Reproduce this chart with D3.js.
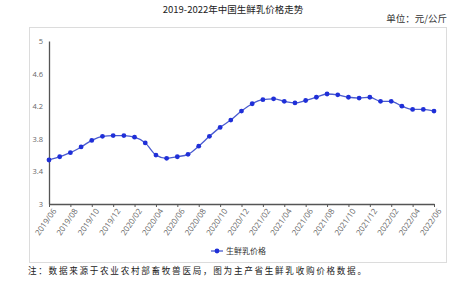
<!DOCTYPE html>
<meta charset="utf-8" />
<html>
<head>
<title>生鲜乳价格</title>
<script src="https://cdn.jsdelivr.net/npm/d3@7"></script>
<style>
body { margin: 0; background: #fff; }
text { font-family: "Noto Sans CJK SC", "Noto Sans", sans-serif; }
</style>
</head>
<body>
<div id="viz"></div>
<script>

// monthly labels, 2019/06 .. 2022/06
var months = ["2019/06","2019/07","2019/08","2019/09","2019/10","2019/11","2019/12",
  "2020/01","2020/02","2020/03","2020/04","2020/05","2020/06","2020/07","2020/08","2020/09","2020/10","2020/11","2020/12",
  "2021/01","2021/02","2021/03","2021/04","2021/05","2021/06","2021/07","2021/08","2021/09","2021/10","2021/11","2021/12",
  "2022/01","2022/02","2022/03","2022/04","2022/05","2022/06"];
var prices = [3.54,3.58,3.63,3.70,3.78,3.83,3.84,
  3.84,3.82,3.75,3.60,3.56,3.58,3.61,3.71,3.83,3.94,4.03,4.14,
  4.23,4.28,4.29,4.26,4.24,4.27,4.31,4.35,4.34,4.31,4.30,4.31,
  4.26,4.26,4.20,4.16,4.16,4.14];
var yTicks = [3, 3.4, 3.8, 4.2, 4.6, 5];
var seriesName = "生鲜乳价格";

var width = 474, height = 283;
var svg = d3.select("#viz").append("svg")
    .attr("width", width)
    .attr("height", height);

// outer frame
svg.append("rect")
  .attr("x", 29.5).attr("y", 27.5)
  .attr("width", 417).attr("height", 235)
  .style("fill", "none")
  .style("stroke", "#dcdcdc");

svg.append("text")
  .attr("x", 233).attr("y", 13)
  .attr("text-anchor", "middle")
  .style("font-size", "9.5px")
  .style("fill", "#222")
  .text("2019-2022年中国生鲜乳价格走势");

svg.append("text")
  .attr("x", 447).attr("y", 22)
  .attr("text-anchor", "end")
  .style("font-size", "9.5px")
  .style("fill", "#333")
  .text("单位：元/公斤");

var x = d3.scalePoint().domain(months).range([49, 434]);
var y = d3.scaleLinear().domain([3, 5]).range([204, 41]);

// y axis
var yAxis = svg.append("g")
  .attr("transform", "translate(49,0)")
  .call(d3.axisLeft(y).tickValues(yTicks).tickSize(0).tickPadding(6).tickFormat(d3.format("")));
yAxis.select(".domain").style("stroke", "#555").style("stroke-width", 1.3);
yAxis.selectAll("text").style("font-size", "7.5px").style("fill", "#666")
  .style("font-family", "'Open Sans', sans-serif");

// x axis, every other month labelled
var xAxis = svg.append("g")
  .attr("transform", "translate(0,204)")
  .call(d3.axisBottom(x)
    .tickValues(months.filter(function(d, i) { return i % 2 == 0; }))
    .tickSize(3).tickSizeOuter(0));
xAxis.select(".domain").style("stroke", "#555").style("stroke-width", 1.3);
xAxis.selectAll(".tick line").style("stroke", "#555");
xAxis.selectAll("text")
  .style("font-size", "8px").style("fill", "#666")
  .style("font-family", "'Open Sans', sans-serif")
  .attr("text-anchor", "end")
  .attr("dx", "-0.2em").attr("dy", "0.5em")
  .attr("transform", "rotate(-55)");

// price line
var line = d3.line()
  .x(function(d, i) { return x(months[i]); })
  .y(function(d) { return y(d); })
  .curve(d3.curveMonotoneX);

svg.append("path")
  .datum(prices)
  .attr("d", line)
  .style("fill", "none")
  .style("stroke", "#4a5bd0")
  .style("stroke-width", 1.3);

svg.selectAll("circle.pt")
  .data(prices)
  .enter().append("circle")
  .attr("class", "pt")
  .attr("r", 2.4)
  .attr("cx", function(d, i) { return x(months[i]); })
  .attr("cy", function(d) { return y(d); })
  .style("fill", "#1f2fd8");

// legend
var lg = svg.append("g").attr("transform", "translate(211,251)");
lg.append("line").attr("x1", 0).attr("x2", 12)
  .style("stroke", "#4a5bd0").style("stroke-width", 1.3);
lg.append("circle").attr("cx", 6).attr("r", 2.4).style("fill", "#1f2fd8");
lg.append("text").attr("x", 15).attr("y", 3)
  .style("font-size", "8px").style("fill", "#333")
  .text(seriesName);

// note
svg.append("text")
  .attr("x", 28).attr("y", 274)
  .style("font-size", "8.6px")
  .style("letter-spacing", "1.7px")
  .style("fill", "#222")
  .text("注：数据来源于农业农村部畜牧兽医局，图为主产省生鲜乳收购价格数据。");

</script>
</body>
</html>
